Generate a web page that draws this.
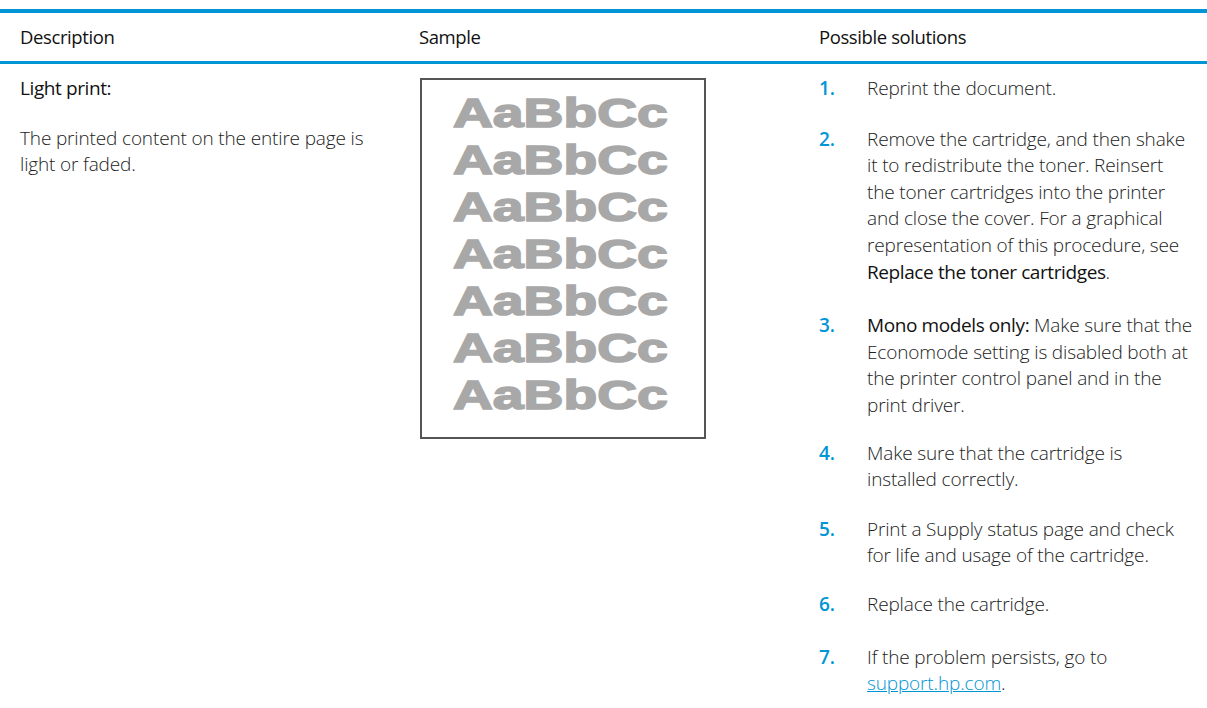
<!DOCTYPE html>
<html>
<head>
<meta charset="utf-8">
<script src="https://cdn.jsdelivr.net/npm/chart.js@4"></script>
<style>
  body { margin: 0; background: #fff; font-family: "Open Sans", sans-serif; color: #222; }
  #page { position: relative; width: 1207px; height: 708px; overflow: hidden; }
  .rule { position: absolute; left: 0; width: 1207px; background: #0096d6; }
  .head { position: absolute; top: 24px; font-size: 18.5px; font-weight: 400; color: #111; letter-spacing: -0.4px; }
  .txt { font-size: 19px; font-weight: 300; line-height: 26.6px; color: #222; letter-spacing: -0.15px; }
  #desc { position: absolute; left: 20px; top: 75px; width: 380px; }
  #desc .title { font-weight: 400; color: #111; margin-bottom: 23px; letter-spacing: -0.4px; }
  #sample { position: absolute; left: 420px; top: 78px; width: 282px; height: 357px; border: 2px solid #555; }
  #sample div { font-family: "Liberation Sans", Arial, sans-serif; font-weight: 700; color: #a8a8a8; font-size: 40px;
    -webkit-text-stroke: 1.6px #a8a8a8;
    line-height: 47px; transform: scaleX(1.38); transform-origin: 0 0; position: absolute; left: 31px; }
  #steps { position: absolute; left: 819px; top: 75px; width: 385px; }
  .step { position: relative; padding-left: 48px; }
  .step .n { position: absolute; left: 0; top: 0; color: #0096d6; font-weight: 600; }
  .step b { font-weight: 400; color: #111; letter-spacing: -0.4px; }
  a { color: #0096d6; text-decoration: underline; }
</style>
</head>
<body>
<div id="page">
  <div class="rule" style="top:9px;height:4px"></div>
  <div class="rule" style="top:61px;height:3px"></div>
  <div id="heads"></div>
  <div id="desc" class="txt"></div>
  <div id="sample"></div>
  <div id="steps"></div>
</div>
<script>
const headers = ["Description", "Sample", "Possible solutions"];
const headerX = [20, 419, 819];
const descTitle = "Light print:";
const descText = "The printed content on the entire page is<br>light or faded.";
const sampleLines = ["AaBbCc", "AaBbCc", "AaBbCc", "AaBbCc", "AaBbCc", "AaBbCc", "AaBbCc"];
const steps = [
  "Reprint the document.",
  "Remove the cartridge, and then shake<br>it to redistribute the toner. Reinsert<br>the toner cartridges into the printer<br>and close the cover. For a graphical<br>representation of this procedure, see<br><b>Replace the toner cartridges</b>.",
  "<b>Mono models only:</b> Make sure that the<br>Economode setting is disabled both at<br>the printer control panel and in the<br>print driver.",
  "Make sure that the cartridge is<br>installed correctly.",
  "Print a Supply status page and check<br>for life and usage of the cartridge.",
  "Replace the cartridge.",
  "If the problem persists, go to<br><a>support.hp.com</a>."
];
const stepGaps = [24, 27, 21, 23, 22, 26, 0];

const heads = document.getElementById("heads");
headers.forEach((h, i) => {
  const d = document.createElement("div");
  d.className = "head";
  d.style.left = headerX[i] + "px";
  d.textContent = h;
  heads.appendChild(d);
});

document.getElementById("desc").innerHTML =
  '<div class="title">' + descTitle + '</div><div>' + descText + '</div>';

const sample = document.getElementById("sample");
sampleLines.forEach((s, i) => {
  const d = document.createElement("div");
  d.style.top = (10 + i * 47) + "px";
  d.textContent = s;
  sample.appendChild(d);
});

const stepsBox = document.getElementById("steps");
steps.forEach((s, i) => {
  const d = document.createElement("div");
  d.className = "step txt";
  d.style.marginBottom = stepGaps[i] + "px";
  d.innerHTML = '<span class="n">' + (i + 1) + '.</span>' + s;
  stepsBox.appendChild(d);
});
</script>
</body>
</html>
